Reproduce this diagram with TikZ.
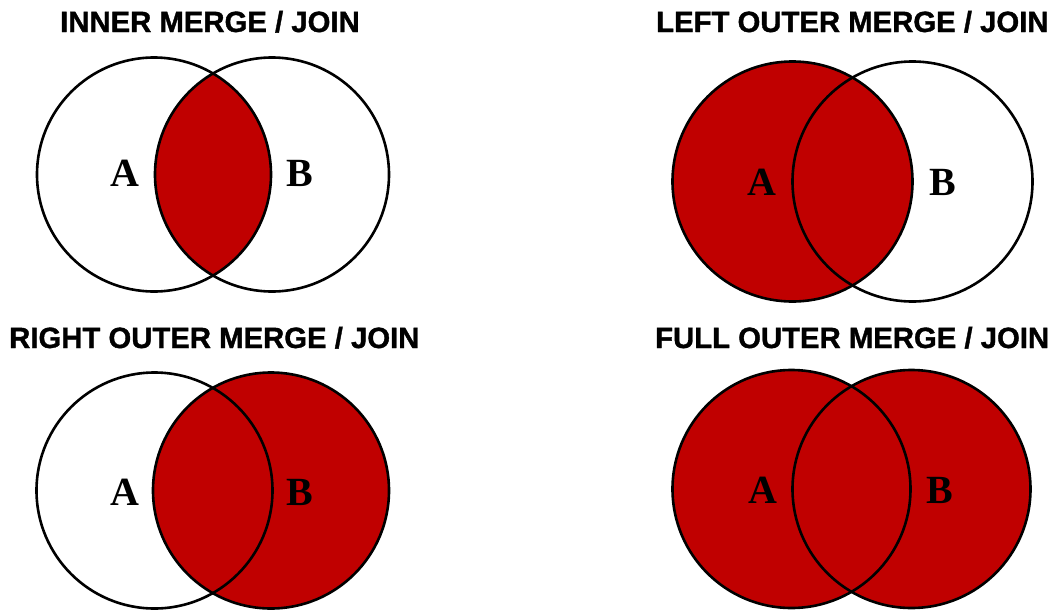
\documentclass[tikz,border=0pt]{standalone}
\usepackage{fontspec}
\setmainfont{Liberation Serif}
\newfontfamily\headfont{Liberation Sans Bold}[FakeBold=1.2]
\usetikzlibrary{positioning}
\definecolor{joinred}{RGB}{192,0,0}

\begin{document}
\begin{tikzpicture}[x=1pt,y=-1pt,
 title/.style={anchor=base west,inner sep=0pt,font=\headfont\fontsize{29.3}{32}\selectfont},
 lbl/.style={inner sep=0pt,font=\bfseries\fontsize{40}{44}\selectfont},
 ring/.style={draw=black,line width=2.6pt},
 part/.style={fill=joinred}]
\useasboundingbox[fill=white] (0,0) rectangle (1060,611);
% inner
\coordinate (ia) at (154,174.5);\coordinate (ib) at (272,174.5);
\begin{scope}\clip (ia) circle (117);\fill[part] (ib) circle (117);\end{scope}
\draw[ring] (ia) circle (117);\draw[ring] (ib) circle (117);
\node[title] (tinner) at (60,32) {INNER MERGE / JOIN};
\node[lbl] (inA) at (125,173) {A};
\node[lbl] (inB) at (300,173) {B};
% left outer
\coordinate (la) at (792.5,181.5);\coordinate (lb) at (912.5,181.5);
\fill[part] (la) circle (120);
\draw[ring] (la) circle (120);\draw[ring] (lb) circle (120);
\node[title] (tleft) at (656,32) {LEFT OUTER MERGE / JOIN};
\node[lbl] (leA) at (762,182) {A};
\node[lbl] (leB) at (943,182) {B};
% right outer
\coordinate (ra) at (154.5,490.5);\coordinate (rb) at (271,490.5);
\fill[part] (rb) circle (118);
\draw[ring] (ra) circle (118);\draw[ring] (rb) circle (118);
\node[title] (tright) at (9,348) {RIGHT OUTER MERGE / JOIN};
\node[lbl] (riA) at (125,492) {A};
\node[lbl] (riB) at (300,492) {B};
% full outer
\coordinate (fa) at (791.5,489);\coordinate (fb) at (911.5,489);
\fill[part] (fa) circle (119);\fill[part] (fb) circle (119);
\draw[ring] (fa) circle (119);\draw[ring] (fb) circle (119);
\node[title] (tfull) at (655,348) {FULL OUTER MERGE / JOIN};
\node[lbl] (fuA) at (763,490) {A};
\node[lbl] (fuB) at (940,490) {B};
\end{tikzpicture}
\end{document}
